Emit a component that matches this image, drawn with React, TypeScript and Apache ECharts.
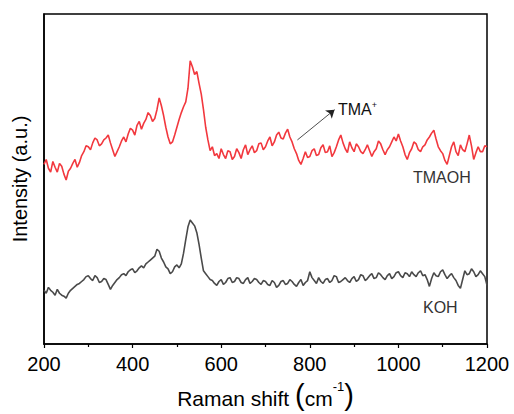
import React, { useEffect, useRef } from "react";
import * as echarts from "echarts";

const wavenumbers: number[] = [];
for (let w = 200; w <= 1200; w += 5) wavenumbers.push(w);

const tmaohIntensity = [
  184, 189, 180, 176, 187, 181, 176, 185, 182, 174, 168, 177, 180, 185, 189, 181, 186, 193, 197, 203,
  202, 199, 206, 211, 209, 203, 205, 209, 211, 214, 206, 199, 192, 197, 202, 208, 212, 207, 215, 221,
  219, 214, 224, 228, 220, 226, 230, 237, 234, 228, 231, 240, 252, 244, 234, 222, 212, 205, 207, 214,
  222, 230, 237, 243, 248, 262, 290, 284, 276, 279, 267, 256, 240, 222, 209, 198, 202, 193, 195, 190,
  200, 194, 190, 198, 197, 189, 192, 200, 196, 190, 199, 204, 194, 199, 203, 196, 198, 205, 206, 199,
  202, 208, 212, 203, 207, 214, 217, 211, 210, 216, 220, 212, 207, 200, 195, 188, 184, 190, 197, 191,
  192, 198, 200, 193, 194, 201, 204, 196, 197, 203, 192, 196, 202, 209, 214, 206, 200, 196, 207, 201,
  197, 205, 202, 197, 195, 199, 204, 198, 192, 197, 200, 208, 205, 199, 194, 199, 202, 207, 212, 208,
  215, 208, 202, 194, 189, 196, 200, 207, 205, 199, 197, 202, 204, 209, 212, 216, 219, 210, 202, 198,
  195, 188, 184, 193, 202, 207, 197, 193, 204, 199, 197, 205, 214, 203, 189, 196, 202, 197, 197, 203,
  202,
];

const kohIntensity = [
  55, 52, 58, 55, 53, 50, 56, 52, 50, 49, 47, 52, 55, 57, 59, 61, 62, 64, 66, 69,
  70, 67, 65, 70, 68, 63, 64, 67, 66, 61, 56, 60, 63, 66, 68, 71, 72, 70, 74, 76,
  77, 73, 75, 78, 80, 78, 82, 84, 86, 88, 90, 97, 95, 88, 84, 79, 77, 72, 74, 79,
  81, 78, 82, 93, 107, 120, 127, 124, 121, 114, 102, 88, 75, 72, 69, 66, 65, 62, 60, 64,
  66, 61, 63, 67, 68, 63, 64, 68, 67, 63, 62, 66, 68, 62, 64, 67, 66, 63, 61, 65,
  64, 61, 60, 65, 63, 58, 60, 64, 65, 61, 62, 66, 64, 61, 59, 63, 66, 60, 63, 65,
  74, 68, 65, 62, 68, 64, 62, 66, 67, 63, 65, 70, 69, 63, 64, 66, 68, 65, 63, 67,
  69, 64, 66, 71, 70, 65, 67, 70, 72, 67, 68, 73, 71, 68, 66, 70, 72, 67, 69, 73,
  74, 70, 68, 73, 72, 69, 74, 71, 69, 73, 75, 70, 71, 66, 59, 67, 73, 70, 69, 74,
  76, 71, 67, 70, 72, 68, 65, 60, 57, 66, 75, 71, 72, 77, 74, 69, 71, 75, 72, 69,
  60,
];

const xTicks = [200, 400, 600, 800, 1000, 1200];

const FONT = "Arial, 'Liberation Sans', sans-serif";

export default function App() {
  const ref = useRef<HTMLDivElement>(null);
  useEffect(() => {
    if (!ref.current) return;
    const chart = echarts.init(ref.current, undefined, { renderer: "svg" });
    const red = wavenumbers.map((w, i) => [w, tmaohIntensity[i]]);
    const gray = wavenumbers.map((w, i) => [w, kohIntensity[i]]);
    chart.setOption({
      animation: false,
      backgroundColor: "#fff",
      grid: {
        left: 44,
        right: 27,
        top: 14,
        bottom: 62,
        show: true,
        borderColor: "#000",
        borderWidth: 1.5,
      },
      xAxis: {
        type: "value",
        min: xTicks[0],
        max: xTicks[xTicks.length - 1],
        interval: 200,
        axisLine: { show: true, lineStyle: { color: "#000", width: 1.5 } },
        axisTick: { show: true, inside: false, length: 4, lineStyle: { color: "#000", width: 1.2 } },
        minorTick: { show: true, splitNumber: 2, length: 3, lineStyle: { color: "#000", width: 1.2 } },
        splitLine: { show: false },
        axisLabel: {
          color: "#000",
          fontSize: 20,
          fontFamily: FONT,
          margin: 10,
          formatter: (v: number) => String(v),
        },
        name: "{a|Raman shift }{p|(}{a|cm}{s|-1}{p|)}",
        nameLocation: "middle",
        nameGap: 36,
        nameTextStyle: {
          rich: {
            a: { fontSize: 21, fontFamily: FONT, color: "#000", verticalAlign: "bottom" },
            p: { fontSize: 29, fontFamily: FONT, color: "#000", verticalAlign: "bottom" },
            s: { fontSize: 13, fontFamily: FONT, color: "#000", verticalAlign: "top", padding: [0, 0, 13, 0] },
          },
        },
      },
      yAxis: {
        type: "value",
        min: 0,
        max: 338,
        axisLine: { show: true, lineStyle: { color: "#000", width: 1.5 } },
        axisTick: { show: false },
        axisLabel: { show: false },
        splitLine: { show: false },
        name: "Intensity (a.u.)",
        nameLocation: "middle",
        nameGap: 14,
        nameTextStyle: { fontSize: 20, fontFamily: FONT, color: "#000" },
      },
      series: [
        {
          name: "TMAOH",
          type: "line",
          data: red,
          showSymbol: false,
          lineStyle: { color: "#f2383e", width: 1.6 },
          markLine: {
            silent: true,
            symbol: ["none", "arrow"],
            symbolSize: 8,
            label: { show: false },
            lineStyle: { color: "#222", width: 0.8, type: "solid" },
            data: [[{ coord: [772, 209] }, { coord: [856, 240] }]],
          },
        },
        {
          name: "KOH",
          type: "line",
          data: gray,
          showSymbol: false,
          lineStyle: { color: "#4a4a4a", width: 1.6 },
        },
      ],
      graphic: [
        {
          type: "text",
          left: 338,
          top: 100,
          style: {
            text: "{a|TMA}{s|+}",
            rich: {
              a: { fontSize: 16, fontFamily: FONT, fill: "#111", verticalAlign: "bottom" },
              s: { fontSize: 9, fontFamily: FONT, fill: "#111", verticalAlign: "top", padding: [0, 0, 8, 0] },
            },
          },
        },
        {
          type: "text",
          left: 413,
          top: 169,
          style: { text: "TMAOH", fontSize: 16, fontFamily: FONT, fill: "#333" },
        },
        {
          type: "text",
          left: 423,
          top: 299,
          style: { text: "KOH", fontSize: 16, fontFamily: FONT, fill: "#333" },
        },
      ],
    });
    return () => chart.dispose();
  }, []);
  return <div ref={ref} style={{ width: 514, height: 414, position: "absolute", left: 0, top: 0 }} />;
}
